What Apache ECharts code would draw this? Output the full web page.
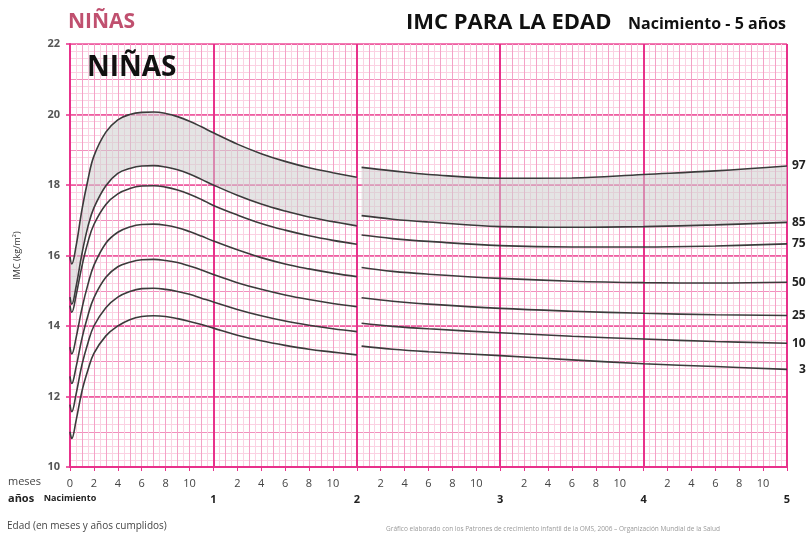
<!DOCTYPE html>
<html>
<head>
<meta charset="utf-8">
<script src="https://cdn.jsdelivr.net/npm/echarts@6/dist/echarts.min.js"></script>
<style>
  html, body { margin: 0; padding: 0; background: #fff; }
  #chart { width: 808px; height: 536px; }
</style>
</head>
<body>
<div id="chart"></div>
<script>
// edades en meses (tramo 0-2 años medido acostado, tramo 2-5 años de pie)
var ageA = [0, 0.15, 0.5, 1, 1.5, 2, 3, 4, 5, 6, 7, 8, 9, 10, 11, 12, 14, 16, 18, 20, 22, 24];
var ageB = [24.4, 27, 30, 36, 42, 48, 54, 60];

// percentiles IMC (kg/m2) niñas, 0-2 años
var p97A = [15.96, 15.76, 16.25, 17.3, 18.15, 18.82, 19.5, 19.85, 20.0, 20.06, 20.07, 20.03, 19.94, 19.81, 19.65, 19.48, 19.16, 18.89, 18.67, 18.49, 18.35, 18.22];
var p85A = [14.82, 14.62, 15.1, 16.05, 16.82, 17.35, 17.98, 18.33, 18.47, 18.54, 18.55, 18.51, 18.43, 18.31, 18.16, 18.0, 17.71, 17.46, 17.26, 17.09, 16.96, 16.84];
var p75A = [14.58, 14.39, 14.85, 15.7, 16.38, 16.88, 17.45, 17.75, 17.9, 17.97, 17.98, 17.94, 17.86, 17.74, 17.59, 17.42, 17.15, 16.91, 16.72, 16.56, 16.43, 16.32];
var p50A = [13.4, 13.21, 13.65, 14.5, 15.18, 15.72, 16.35, 16.66, 16.81, 16.88, 16.89, 16.86, 16.79, 16.68, 16.55, 16.41, 16.16, 15.94, 15.76, 15.62, 15.5, 15.4];
var p25A = [12.57, 12.37, 12.82, 13.65, 14.3, 14.8, 15.38, 15.68, 15.81, 15.88, 15.89, 15.86, 15.8, 15.7, 15.59, 15.46, 15.23, 15.04, 14.88, 14.75, 14.64, 14.55];
var p10A = [11.77, 11.57, 12.05, 12.9, 13.52, 14.0, 14.52, 14.82, 14.98, 15.06, 15.07, 15.04, 14.98, 14.9, 14.79, 14.68, 14.47, 14.29, 14.14, 14.02, 13.92, 13.84];
var p3A = [11.0, 10.81, 11.3, 12.15, 12.75, 13.22, 13.72, 14.0, 14.18, 14.27, 14.29, 14.27, 14.21, 14.13, 14.04, 13.94, 13.74, 13.58, 13.45, 13.34, 13.26, 13.18];

// percentiles IMC (kg/m2) niñas, 2-5 años
var p97B = [18.5, 18.4, 18.3, 18.19, 18.2, 18.3, 18.4, 18.54];
var p85B = [17.13, 17.03, 16.95, 16.82, 16.8, 16.82, 16.87, 16.94];
var p75B = [16.58, 16.48, 16.4, 16.28, 16.24, 16.24, 16.27, 16.33];
var p50B = [15.66, 15.55, 15.47, 15.35, 15.27, 15.23, 15.22, 15.24];
var p25B = [14.8, 14.7, 14.62, 14.5, 14.42, 14.36, 14.32, 14.3];
var p10B = [14.08, 13.99, 13.92, 13.81, 13.71, 13.63, 13.56, 13.51];
var p3B = [13.43, 13.34, 13.27, 13.16, 13.04, 12.93, 12.85, 12.77];

var yearLabels = ['Nacimiento', '1', '2', '3', '4', '5'];

var lineColor = '#3b3b3b';
var FONT = 'Open Sans';
var SMOOTH = 0.4;

function pairs(ages, vals) {
  return ages.map(function (a, i) { return [a, vals[i]]; });
}

function curve(name, ages, vals, withLabel, labelDist) {
  var s = {
    name: name,
    type: 'line',
    xAxisIndex: 3,
    yAxisIndex: 2,
    data: pairs(ages, vals),
    smooth: SMOOTH,
    symbol: 'none',
    z: 5,
    lineStyle: { color: lineColor, width: 1.6 }
  };
  if (withLabel) {
    s.endLabel = {
      show: true,
      formatter: name,
      distance: labelDist || 5,
      color: '#222',
      fontFamily: FONT,
      fontWeight: 'bold',
      fontSize: 12
    };
  }
  return s;
}

// same bezier control points as the smoothed line series
function bezierSegs(p, smooth) {
  var segs = [];
  var cpx0 = p[0][0], cpy0 = p[0][1];
  for (var i = 1; i < p.length; i++) {
    var x = p[i][0], y = p[i][1], prevX = p[i - 1][0], prevY = p[i - 1][1];
    var cpx1, cpy1, nCpx0 = x, nCpy0 = y;
    if (i === p.length - 1) {
      cpx1 = x; cpy1 = y;
    } else {
      var nextX = p[i + 1][0], nextY = p[i + 1][1];
      var vx = nextX - prevX, vy = nextY - prevY;
      var lenPrev = Math.hypot(x - prevX, y - prevY);
      var lenNext = Math.hypot(nextX - x, nextY - y);
      var r = lenNext / (lenNext + lenPrev);
      nCpx0 = x + vx * smooth * r;
      nCpy0 = y + vy * smooth * r;
      nCpx0 = Math.max(Math.min(nCpx0, Math.max(nextX, x)), Math.min(nextX, x));
      nCpy0 = Math.max(Math.min(nCpy0, Math.max(nextY, y)), Math.min(nextY, y));
      vx = nCpx0 - x; vy = nCpy0 - y;
      cpx1 = x - vx * lenPrev / lenNext;
      cpy1 = y - vy * lenPrev / lenNext;
      cpx1 = Math.max(Math.min(cpx1, Math.max(prevX, x)), Math.min(prevX, x));
      cpy1 = Math.max(Math.min(cpy1, Math.max(prevY, y)), Math.min(prevY, y));
      vx = x - cpx1; vy = y - cpy1;
      nCpx0 = x + vx * lenNext / lenPrev;
      nCpy0 = y + vy * lenNext / lenPrev;
    }
    segs.push([cpx0, cpy0, cpx1, cpy1, x, y]);
    cpx0 = nCpx0; cpy0 = nCpy0;
  }
  return segs;
}

// zona sombreada entre percentil 85 y 97
function band(ages, lo, hi) {
  return {
    type: 'custom',
    xAxisIndex: 3,
    yAxisIndex: 2,
    silent: true,
    z: 2,
    data: [[ages[0], lo[0]]],
    renderItem: function (params, api) {
      var top = ages.map(function (a, i) { return api.coord([a, hi[i]]); });
      var bot = ages.map(function (a, i) { return api.coord([a, lo[i]]); });
      var d = 'M' + top[0][0] + ' ' + top[0][1];
      bezierSegs(top, SMOOTH).forEach(function (s) { d += 'C' + s.join(' '); });
      d += 'L' + bot[bot.length - 1][0] + ' ' + bot[bot.length - 1][1];
      var bs = bezierSegs(bot, SMOOTH);
      for (var i = bs.length - 1; i >= 0; i--) {
        var start = i === 0 ? bot[0] : [bs[i - 1][4], bs[i - 1][5]];
        d += 'C' + bs[i][2] + ' ' + bs[i][3] + ' ' + bs[i][0] + ' ' + bs[i][1] + ' ' + start[0] + ' ' + start[1];
      }
      d += 'Z';
      return { type: 'path', shape: { pathData: d }, style: { fill: 'rgba(205,205,205,0.55)' } };
    }
  };
}

var chart = echarts.init(document.getElementById('chart'));

var hiddenAxis = { show: false };

chart.setOption({
  animation: false,
  textStyle: { fontFamily: FONT },
  grid: { left: 70, right: 21, top: 44, bottom: 69, containLabel: false, outerBoundsMode: 'none' },
  xAxis: [
    {
      type: 'value', min: 0, max: 60, interval: 0.5,
      axisLine: hiddenAxis, axisTick: hiddenAxis, axisLabel: hiddenAxis,
      splitLine: { show: true, lineStyle: { color: '#fbd2e3', width: 1 } }
    },
    {
      type: 'value', min: 0, max: 60, interval: 1,
      axisLine: hiddenAxis, axisTick: hiddenAxis, axisLabel: hiddenAxis,
      splitLine: { show: true, lineStyle: { color: '#f4a2c7', width: 1 } }
    },
    {
      type: 'value', min: 0, max: 60, interval: 12,
      position: 'bottom', offset: 20,
      axisLine: hiddenAxis,
      axisTick: hiddenAxis,
      axisLabel: {
        margin: 7,
        formatter: function (v) {
          var t = yearLabels[v / 12];
          return v === 0 ? '{n|' + t + '}' : '{y|' + t + '}';
        },
        rich: {
          n: { fontFamily: FONT, fontWeight: 'bold', fontSize: 9, color: '#222' },
          y: { fontFamily: FONT, fontWeight: 'bold', fontSize: 11, color: '#222' }
        }
      },
      splitLine: { show: true, lineStyle: { color: '#e8318b', width: 2 } }
    },
    {
      type: 'value', min: 0, max: 60, interval: 2,
      position: 'bottom',
      axisLine: { show: true, onZero: false, lineStyle: { color: '#e8318b', width: 2 } },
      axisTick: { show: true, interval: 0, length: 4, lineStyle: { color: '#e8318b', width: 1 } },
      axisLabel: {
        margin: 11,
        color: '#444',
        fontSize: 11,
        formatter: function (v) {
          if (v === 0) return '0';
          var m = v % 12;
          return m === 0 ? '' : String(m);
        }
      },
      splitLine: hiddenAxis
    }
  ],
  yAxis: [
    {
      type: 'value', min: 10, max: 22, interval: 0.2, position: 'left',
      axisLine: hiddenAxis, axisTick: hiddenAxis, axisLabel: hiddenAxis,
      splitLine: { show: true, lineStyle: { color: '#fbd2e3', width: 1 } }
    },
    {
      type: 'value', min: 10, max: 22, interval: 1, position: 'left',
      axisLine: hiddenAxis, axisTick: hiddenAxis, axisLabel: hiddenAxis,
      splitLine: { show: true, lineStyle: { color: '#f290bd', width: 1 } }
    },
    {
      type: 'value', min: 10, max: 22, interval: 2, position: 'left',
      name: 'IMC (kg/m\u00b2)',
      nameLocation: 'middle',
      nameGap: 48,
      nameRotate: 90,
      nameTextStyle: { fontSize: 9, color: '#333', fontFamily: FONT },
      axisLine: { show: true, onZero: false, lineStyle: { color: '#e8318b', width: 2 } },
      axisTick: { show: true, length: 4, lineStyle: { color: '#e8318b', width: 1.5 } },
      axisLabel: { margin: 10, color: '#555', fontSize: 11, fontWeight: 'bold' },
      splitLine: { show: true, lineStyle: { color: '#ec4f9a', width: 1.5 } }
    }
  ],
  graphic: [
    { type: 'text', left: 68, top: 12,
      style: { text: 'NIÑAS', fill: '#c0506f', font: 'bold 21px "Open Sans"' } },
    { type: 'text', left: 406, top: 12,
      style: { text: 'IMC PARA LA EDAD', fill: '#111', font: 'bold 22px "Open Sans"' } },
    { type: 'text', left: 628, top: 16,
      style: { text: 'Nacimiento - 5 años', fill: '#111', font: 'bold 16px "Open Sans"' } },
    { type: 'text', left: 87, top: 54, z: 10,
      style: { text: 'NIÑAS', fill: '#111', font: 'bold 28px "Open Sans"' } },
    { type: 'text', left: 8, top: 476,
      style: { text: 'meses', fill: '#444', font: '11px "Open Sans"' } },
    { type: 'text', left: 8, top: 493,
      style: { text: 'años', fill: '#222', font: 'bold 11px "Open Sans"' } },
    { type: 'text', left: 7, top: 521,
      style: { text: 'Edad (en meses y años cumplidos)', fill: '#444', font: '10px "Open Sans"' } },
    { type: 'text', left: 386, top: 526,
      style: { text: 'Gráfico elaborado con los Patrones de crecimiento infantil de la OMS, 2006 – Organización Mundial de la Salud', fill: '#999', font: '6.5px "Open Sans"' } }
  ],
  series: [
    band(ageA, p85A, p97A),
    band(ageB, p85B, p97B),
    curve('97', ageA, p97A), curve('85', ageA, p85A), curve('75', ageA, p75A),
    curve('50', ageA, p50A), curve('25', ageA, p25A), curve('10', ageA, p10A),
    curve('3', ageA, p3A),
    curve('97', ageB, p97B, true), curve('85', ageB, p85B, true), curve('75', ageB, p75B, true),
    curve('50', ageB, p50B, true), curve('25', ageB, p25B, true), curve('10', ageB, p10B, true),
    curve('3', ageB, p3B, true, 12)
  ]
});
</script>
</body>
</html>
